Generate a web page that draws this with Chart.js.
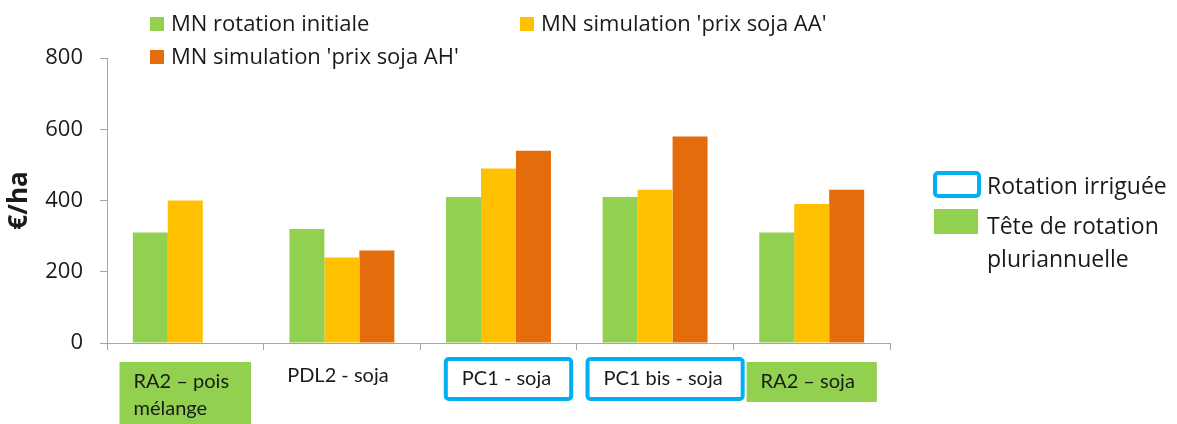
<!DOCTYPE html>
<html>
<head>
<meta charset="utf-8">
<script src="https://cdn.jsdelivr.net/npm/chart.js@4/dist/chart.umd.min.js"></script>
<style>
  html, body { margin: 0; padding: 0; background: #fff; }
  #wrap { width: 1177px; height: 424px; }
</style>
</head>
<body>
<div id="wrap"><canvas id="mnChart" width="1177" height="424"></canvas></div>
<script>
// Marges nettes par rotation (€/ha)
const categories = [['RA2 – pois', 'mélange'], ['PDL2 - soja'], ['PC1 - soja'], ['PC1 bis - soja'], ['RA2 – soja']];
// type de rotation : 'tete' = tête de rotation pluriannuelle, 'irrig' = rotation irriguée
const categoryTypes = ['tete', '', 'irrig', 'irrig', 'tete'];
const seriesNames = ['MN rotation initiale', "MN simulation 'prix soja AA'", "MN simulation 'prix soja AH'"];
const mnInitiale = [310, 320, 410, 410, 310];
const mnSojaAA = [400, 240, 490, 430, 390];
const mnSojaAH = [null, 260, 540, 580, 430];
const yTicks = [0, 200, 400, 600, 800];
const sideLegend = [['Rotation irriguée'], ['Tête de rotation', 'pluriannuelle']];

const GREEN = '#92D050', YELLOW = '#FFC000', ORANGE = '#E46C0A', BLUE = '#00B0F0';
const FONT = 'Lato, "Open Sans", sans-serif';
const FONT_LEG = '"Open Sans", Lato, sans-serif';
const TXT = '#1a1a1a';

function roundRect(ctx, x, y, w, h, r) {
  ctx.beginPath();
  ctx.moveTo(x + r, y);
  ctx.arcTo(x + w, y, x + w, y + h, r);
  ctx.arcTo(x + w, y + h, x, y + h, r);
  ctx.arcTo(x, y + h, x, y, r);
  ctx.arcTo(x, y, x + w, y, r);
  ctx.closePath();
}

const extras = {
  id: 'extras',
  afterDraw(chart) {
    const ctx = chart.ctx;
    const xs = chart.scales.x;
    ctx.save();
    ctx.textBaseline = 'middle';

    // légende du haut
    ctx.font = '22px ' + FONT_LEG;
    const legPos = [[150, 24], [520, 24], [150, 57]];
    chart.data.datasets.forEach((ds, i) => {
      const [lx, ly] = legPos[i];
      ctx.fillStyle = ds.backgroundColor;
      ctx.fillRect(lx, ly - 7, 14, 14);
      ctx.fillStyle = TXT;
      ctx.textAlign = 'left';
      ctx.fillText(ds.label, lx + 21, ly + 1);
    });

    // étiquettes des catégories (encadrés)
    ctx.font = '20px ' + FONT;
    categories.forEach((lines, i) => {
      const type = categoryTypes[i];
      const cx = xs.getPixelForValue(i) + (type === 'irrig' ? 10 : 0);
      const w = Math.max(...lines.map(l => ctx.measureText(l).width)) + (type === 'irrig' ? 36 : 36);
      const top = type === 'irrig' ? 359 : 362;
      const h = lines.length > 1 ? 70 : 40;
      if (type === 'tete') {
        ctx.fillStyle = GREEN;
        ctx.fillRect(cx - w / 2, top, w, h);
      } else if (type === 'irrig') {
        ctx.strokeStyle = BLUE;
        ctx.lineWidth = 4;
        roundRect(ctx, cx - w / 2, top, w, h, 3);
        ctx.stroke();
      }
      ctx.fillStyle = TXT;
      ctx.textAlign = 'left';
      const tx = cx - w / 2 + (type === 'irrig' ? 16 : 14);
      const ty = type === '' ? 376 : top + 20;
      lines.forEach((l, k) => ctx.fillText(l, tx, ty + k * 27));
    });

    // légende de droite
    ctx.font = '23px ' + FONT_LEG;
    ctx.strokeStyle = BLUE;
    ctx.lineWidth = 4;
    roundRect(ctx, 935, 173, 44, 23, 3);
    ctx.stroke();
    ctx.fillStyle = GREEN;
    ctx.fillRect(934, 209, 44, 25);
    ctx.fillStyle = TXT;
    ctx.textAlign = 'left';
    sideLegend[0].forEach((l, k) => ctx.fillText(l, 987, 187 + k * 33));
    sideLegend[1].forEach((l, k) => ctx.fillText(l, 987, 227 + k * 33));
    ctx.restore();
  }
};

const axisGrey = '#A6A6A6';

new Chart(document.getElementById('mnChart'), {
  type: 'bar',
  data: {
    labels: categories.map(c => c.join(' ')),
    datasets: [
      { label: seriesNames[0], data: mnInitiale, backgroundColor: GREEN },
      { label: seriesNames[1], data: mnSojaAA, backgroundColor: YELLOW },
      { label: seriesNames[2], data: mnSojaAH, backgroundColor: ORANGE }
    ]
  },
  options: {
    responsive: false,
    animation: false,
    categoryPercentage: 0.67,
    barPercentage: 1.0,
    layout: { padding: { left: 0, right: 287, top: 58, bottom: 74 } },
    plugins: { legend: { display: false }, tooltip: { enabled: false } },
    scales: {
      x: {
        grid: { drawOnChartArea: false, offset: true, tickLength: 7, color: axisGrey },
        border: { color: axisGrey },
        ticks: { display: false }
      },
      y: {
        min: 0,
        max: 800,
        afterBuildTicks: s => { s.ticks = yTicks.map(v => ({ value: v })); },
        afterFit: s => { s.width = 107; },
        grid: { drawOnChartArea: false, tickLength: 7, color: axisGrey },
        border: { color: axisGrey },
        ticks: { font: { family: FONT_LEG, size: 22 }, color: TXT, padding: 17 },
        title: {
          display: true,
          text: '€/ha',
          font: { family: FONT_LEG, size: 26, weight: 'bold' },
          color: TXT,
          padding: { top: 4, bottom: 0 }
        }
      }
    }
  },
  plugins: [extras]
});
</script>
</body>
</html>
